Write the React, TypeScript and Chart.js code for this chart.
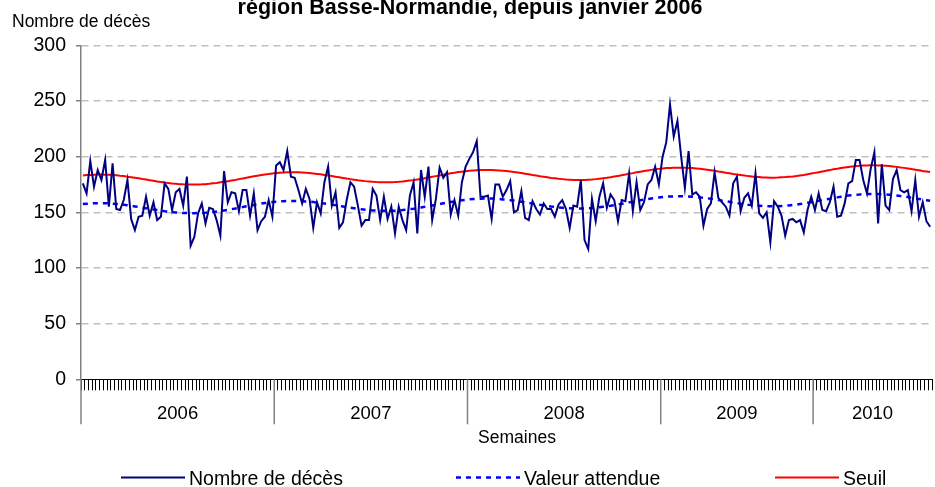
import React, { useEffect, useRef } from 'react';
import { Chart, registerables } from 'chart.js';

Chart.register(...registerables);

const FONT = '"Liberation Sans", Arial, Helvetica, sans-serif';

const TITLE = 'région Basse-Normandie, depuis janvier 2006';
const Y_TITLE = 'Nombre de décès';
const X_TITLE = 'Semaines';

const YEARS = ['2006', '2007', '2008', '2009', '2010'];
const Y_TICKS = [0, 50, 100, 150, 200, 250, 300];

// Nombre de décès hebdomadaire
const DECES_2006 = [176, 167, 196, 173, 188, 179, 197, 155, 194, 153, 152, 161, 179, 144, 134, 146, 147, 164, 147, 159, 143, 146, 176, 171, 152, 168, 171, 156, 182, 120, 128, 149, 158, 140, 154, 153, 143, 129, 187, 159, 168, 167, 151, 170, 170, 147, 167, 134, 142, 146, 161, 146];
const DECES_2007 = [192, 195, 188, 205, 182, 181, 170, 158, 171, 162, 136, 159, 149, 177, 191, 156, 168, 136, 141, 161, 177, 173, 156, 138, 143, 143, 171, 165, 143, 164, 144, 155, 131, 155, 143, 134, 165, 177, 131, 188, 164, 191, 143, 162, 190, 181, 186, 148, 161, 147, 177, 191];
const DECES_2008 = [198, 204, 214, 164, 164, 165, 144, 175, 175, 164, 170, 178, 150, 152, 169, 145, 143, 160, 153, 148, 158, 153, 153, 146, 157, 161, 153, 136, 156, 155, 179, 125, 117, 162, 142, 164, 176, 154, 166, 161, 142, 161, 160, 185, 151, 177, 152, 159, 175, 179, 191, 175];
const DECES_2009 = [200, 213, 247, 218, 232, 200, 172, 205, 166, 168, 164, 138, 153, 158, 186, 163, 159, 155, 147, 176, 182, 151, 163, 167, 156, 185, 149, 145, 150, 123, 160, 155, 147, 129, 143, 144, 141, 143, 132, 152, 164];
const DECES_2010 = [152, 167, 152, 151, 159, 173, 146, 147, 158, 176, 178, 197, 197, 179, 167, 189, 204, 140, 193, 156, 152, 180, 188, 170, 168, 170, 151, 179, 146, 159, 142, 137];

// Valeur attendue
const ATTENDUE = [
  157.4, 157.7, 157.9, 158.1, 158.2, 158.2, 158.1, 158.0, 157.8, 157.5, 157.1, 156.8, 156.3, 155.8, 155.3, 154.8, 154.2, 153.7, 153.1, 152.6, 152.0, 151.5, 151.0, 150.6, 150.2, 149.9, 149.6, 149.4, 149.3, 149.2, 149.2, 149.3, 149.4, 149.6, 149.9, 150.3, 150.7, 151.2, 151.7, 152.2, 152.8, 153.4, 154.1, 154.7, 155.4, 156.0, 156.6, 157.2, 157.8, 158.3, 158.7, 159.2,
  159.5, 159.8, 160.0, 160.2, 160.2, 160.2, 160.2, 160.0, 159.8, 159.6, 159.2, 158.8, 158.4, 157.9, 157.4, 156.9, 156.3, 155.8, 155.2, 154.6, 154.1, 153.6, 153.1, 152.7, 152.3, 152.0, 151.7, 151.5, 151.4, 151.3, 151.3, 151.4, 151.5, 151.7, 152.0, 152.4, 152.8, 153.2, 153.8, 154.3, 154.9, 155.5, 156.2, 156.8, 157.4, 158.1, 158.7, 159.3, 159.8, 160.4, 160.8, 161.2,
  161.6, 161.9, 162.1, 162.2, 162.3, 162.3, 162.3, 162.1, 161.9, 161.6, 161.3, 160.9, 160.5, 160.0, 159.5, 159.0, 158.4, 157.8, 157.3, 156.7, 156.2, 155.7, 155.2, 154.8, 154.4, 154.1, 153.8, 153.6, 153.4, 153.4, 153.4, 153.4, 153.6, 153.8, 154.1, 154.5, 154.9, 155.3, 155.8, 156.4, 157.0, 157.6, 158.2, 158.9, 159.5, 160.2, 160.8, 161.4, 161.9, 162.4, 162.9, 163.3,
  163.7, 164.0, 164.2, 164.3, 164.4, 164.4, 164.3, 164.2, 164.0, 163.7, 163.4, 163.0, 162.6, 162.1, 161.6, 161.0, 160.5, 159.9, 159.4, 158.8, 158.3, 157.8, 157.3, 156.8, 156.5, 156.1, 155.9, 155.6, 155.5, 155.4, 155.4, 155.5, 155.7, 155.9, 156.2, 156.5, 156.9, 157.4, 157.9, 158.5, 159.1, 159.7, 160.3, 161.0, 161.6, 162.2, 162.9, 163.4, 164.0, 164.5, 165.0, 165.4,
  165.8, 166.0, 166.3, 166.4, 166.5, 166.5, 166.4, 166.3, 166.1, 165.8, 165.5, 165.1, 164.6, 164.2, 163.7, 163.1, 162.6, 162.0, 161.4, 160.9, 160.4,
];

// Seuil
const SEUIL = [
  183.1, 183.4, 183.6, 183.8, 183.9, 183.9, 183.8, 183.7, 183.5, 183.2, 182.8, 182.5, 182.0, 181.5, 181.0, 180.5, 179.9, 179.4, 178.8, 178.3, 177.7, 177.2, 176.7, 176.3, 175.9, 175.6, 175.3, 175.1, 175.0, 174.9, 174.9, 175.0, 175.1, 175.3, 175.6, 176.0, 176.4, 176.9, 177.4, 177.9, 178.5, 179.1, 179.8, 180.4, 181.1, 181.7, 182.3, 182.9, 183.5, 184.0, 184.4, 184.9,
  185.2, 185.5, 185.7, 185.9, 185.9, 185.9, 185.9, 185.7, 185.5, 185.3, 184.9, 184.5, 184.1, 183.6, 183.1, 182.6, 182.0, 181.5, 180.9, 180.3, 179.8, 179.3, 178.8, 178.4, 178.0, 177.7, 177.4, 177.2, 177.1, 177.0, 177.0, 177.1, 177.2, 177.4, 177.7, 178.1, 178.5, 178.9, 179.5, 180.0, 180.6, 181.2, 181.9, 182.5, 183.1, 183.8, 184.4, 185.0, 185.5, 186.1, 186.5, 186.9,
  187.3, 187.6, 187.8, 187.9, 188.0, 188.0, 188.0, 187.8, 187.6, 187.3, 187.0, 186.6, 186.2, 185.7, 185.2, 184.7, 184.1, 183.5, 183.0, 182.4, 181.9, 181.4, 180.9, 180.5, 180.1, 179.8, 179.5, 179.3, 179.1, 179.1, 179.1, 179.1, 179.3, 179.5, 179.8, 180.2, 180.6, 181.0, 181.5, 182.1, 182.7, 183.3, 183.9, 184.6, 185.2, 185.9, 186.5, 187.1, 187.6, 188.1, 188.6, 189.0,
  189.4, 189.7, 189.9, 190.0, 190.1, 190.1, 190.0, 189.9, 189.7, 189.4, 189.1, 188.7, 188.3, 187.8, 187.3, 186.7, 186.2, 185.6, 185.1, 184.5, 184.0, 183.5, 183.0, 182.5, 182.2, 181.8, 181.6, 181.3, 181.2, 181.1, 181.1, 181.2, 181.4, 181.6, 181.9, 182.2, 182.6, 183.1, 183.6, 184.2, 184.8, 185.4, 186.0, 186.7, 187.3, 187.9, 188.6, 189.1, 189.7, 190.2, 190.7, 191.1,
  191.5, 191.7, 192.0, 192.1, 192.2, 192.2, 192.1, 192.0, 191.8, 191.5, 191.2, 190.8, 190.3, 189.9, 189.4, 188.8, 188.3, 187.7, 187.1, 186.6, 186.1,
];

const DECES_BY_YEAR = [DECES_2006, DECES_2007, DECES_2008, DECES_2009, DECES_2010];
const DECES = DECES_BY_YEAR.flat();
const YEAR_WEEKS = DECES_BY_YEAR.map((a) => a.length);
const LABELS = YEARS.flatMap((y, k) => Array.from({ length: YEAR_WEEKS[k] }, (_, w) => `${y}-S${w + 1}`));

const SERIES = [
  { label: 'Nombre de décès', data: DECES, color: '#000080', width: 2, dash: [] as number[] },
  { label: 'Valeur attendue', data: ATTENDUE, color: '#0000FF', width: 2.5, dash: [5, 5] },
  { label: 'Seuil', data: SEUIL, color: '#FF0000', width: 2, dash: [] as number[] },
];

const LEGEND_X = [121, 456, 775];
const LEGEND_SAMPLE = 64;
const LEGEND_Y = 477.5;

const overlayPlugin = {
  id: 'overlay',
  afterDraw(chart: any) {
    const { ctx, chartArea, scales } = chart;
    const xs = scales.x;
    ctx.save();
    ctx.fillStyle = '#000';
    ctx.textBaseline = 'alphabetic';

    ctx.font = `bold 21.5px ${FONT}`;
    ctx.textAlign = 'center';
    ctx.fillText(TITLE, 470, 14);

    ctx.font = `17.5px ${FONT}`;
    ctx.textAlign = 'left';
    ctx.fillText(Y_TITLE, 12, 27);

    const step = xs.getPixelForValue(1) - xs.getPixelForValue(0);
    let start = 0;
    ctx.strokeStyle = '#808080';
    ctx.lineWidth = 1.5;
    ctx.font = `18.5px ${FONT}`;
    ctx.textAlign = 'center';
    YEARS.forEach((yr, k) => {
      const n = YEAR_WEEKS[k];
      const left = xs.getPixelForValue(start) - step / 2;
      const right = xs.getPixelForValue(start + n - 1) + step / 2;
      ctx.beginPath();
      ctx.moveTo(left, chartArea.bottom);
      ctx.lineTo(left, chartArea.bottom + 45);
      ctx.stroke();
      ctx.fillText(yr, (left + right) / 2, 419);
      start += n;
    });

    ctx.font = `17.5px ${FONT}`;
    ctx.fillText(X_TITLE, 517, 443);

    ctx.font = `19.5px ${FONT}`;
    ctx.textAlign = 'left';
    chart.data.datasets.forEach((ds: any, i: number) => {
      const x0 = LEGEND_X[i];
      ctx.save();
      ctx.strokeStyle = ds.borderColor;
      ctx.lineWidth = ds.borderWidth;
      ctx.setLineDash(ds.borderDash || []);
      ctx.beginPath();
      ctx.moveTo(x0, LEGEND_Y);
      ctx.lineTo(x0 + LEGEND_SAMPLE, LEGEND_Y);
      ctx.stroke();
      ctx.restore();
      ctx.fillStyle = '#000';
      ctx.fillText(ds.label, x0 + LEGEND_SAMPLE + 4, LEGEND_Y + 7);
    });
    ctx.restore();
  },
};

export default function App() {
  const ref = useRef<HTMLCanvasElement>(null);
  useEffect(() => {
    const canvas = ref.current;
    if (!canvas) return;
    const chart = new Chart(canvas, {
      type: 'line',
      data: {
        labels: LABELS,
        datasets: SERIES.map((s) => ({
          label: s.label,
          data: s.data,
          borderColor: s.color,
          backgroundColor: s.color,
          borderWidth: s.width,
          borderDash: s.dash,
          pointRadius: 0,
          pointHoverRadius: 0,
          tension: 0,
          fill: false,
        })),
      },
      options: {
        responsive: false,
        animation: false,
        devicePixelRatio: 1,
        events: [],
        layout: { padding: { left: 0, right: 3, top: 45.3, bottom: 96.7 } },
        plugins: {
          legend: { display: false },
          title: { display: false },
          tooltip: { enabled: false },
        },
        scales: {
          x: {
            type: 'category',
            offset: true,
            afterFit: (s: any) => {
              s.height = 11;
            },
            grid: {
              display: true,
              offset: true,
              drawOnChartArea: false,
              drawTicks: true,
              tickLength: 11,
              color: '#000',
              tickColor: '#000',
              lineWidth: 1,
            },
            border: { display: true, color: '#000', width: 1 },
            ticks: { display: false },
          },
          y: {
            min: 0,
            max: 300,
            afterFit: (s: any) => {
              s.width = 81;
            },
            afterBuildTicks: (s: any) => {
              s.ticks = Y_TICKS.map((v) => ({ value: v }));
            },
            ticks: {
              padding: 10,
              color: '#000',
              font: { family: FONT, size: 19.5 },
            },
            grid: {
              color: (c: any) => (c.tick && c.tick.value === 0 ? 'rgba(0,0,0,0)' : '#c0c0c0'),
              lineWidth: 1.5,
              drawTicks: true,
              tickLength: 5,
              tickColor: '#808080',
              tickWidth: 1.5,
            },
            border: { display: true, color: '#808080', width: 1.5, dash: [7, 5] },
          },
        },
      },
      plugins: [overlayPlugin],
    });
    return () => chart.destroy();
  }, []);

  return (
    <div style={{ position: 'fixed', left: 0, top: 0, width: 935, height: 487, background: '#fff' }}>
      <canvas ref={ref} width={935} height={487} style={{ display: 'block', width: 935, height: 487 }} />
    </div>
  );
}
